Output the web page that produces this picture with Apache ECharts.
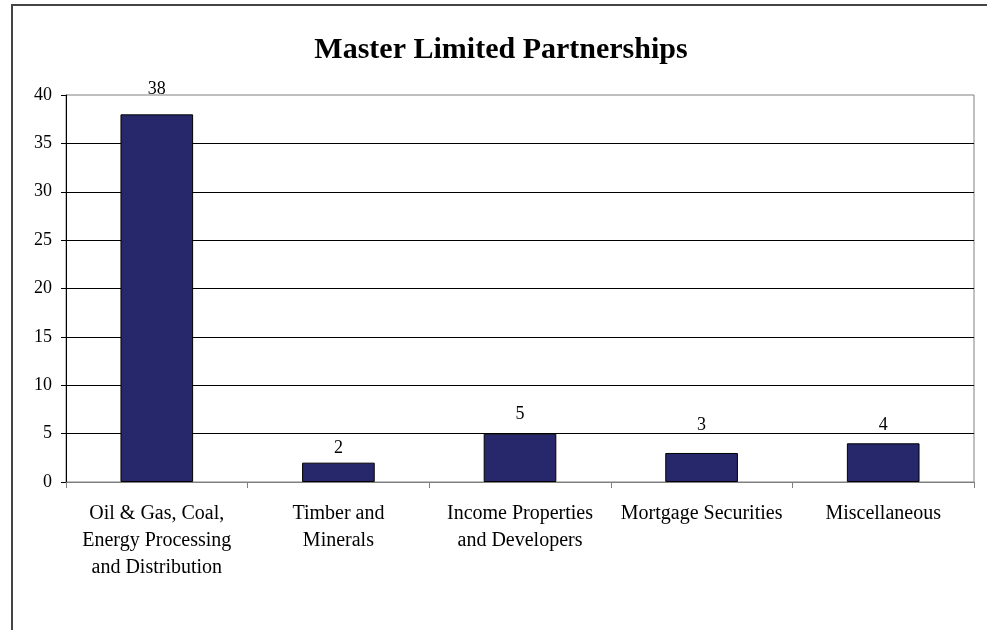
<!DOCTYPE html>
<html>
<head>
<meta charset="utf-8">
<script src="https://cdn.jsdelivr.net/npm/echarts@6/dist/echarts.min.js"></script>
<style>
  html, body { margin: 0; padding: 0; background: #fff; }
  #chart { width: 987px; height: 630px; }
</style>
</head>
<body>
<div id="chart"></div>
<script>
// Number of master limited partnerships by industry group
const categories = [
  'Oil & Gas, Coal,\nEnergy Processing\nand Distribution',
  'Timber and\nMinerals',
  'Income Properties\nand Developers',
  'Mortgage Securities',
  'Miscellaneous'
];
const counts = [38, 2, 5, 3, 4];
const titleText = 'Master Limited Partnerships';
const yMin = 0, yMax = 40, yStep = 5;

// gap (px) between each bar top and its value label
const labelGaps = [16, 5, 10, 19, 9];

const serif = '"Liberation Serif", "Times New Roman", serif';
const chart = echarts.init(document.getElementById('chart'), null, { renderer: 'canvas' });

chart.setOption({
  backgroundColor: '#ffffff',
  animation: false,
  title: {
    text: titleText,
    left: 496,
    top: 30,
    textAlign: 'center',
    textStyle: { fontFamily: serif, fontSize: 30, fontWeight: 'bold', color: '#000' }
  },
  graphic: [{
    type: 'rect',
    shape: { x: 12, y: 5, width: 1000, height: 700 },
    style: { fill: null, stroke: '#444', lineWidth: 2 },
    silent: true
  }],
  grid: {
    left: 66, right: 13, top: 95, bottom: 148,
    show: true, borderColor: '#808080', borderWidth: 1, backgroundColor: 'transparent'
  },
  xAxis: {
    type: 'category',
    data: categories,
    axisLine: { show: true, lineStyle: { color: '#808080', width: 1 } },
    axisTick: { show: true, length: 6, alignWithLabel: false, lineStyle: { color: '#808080' } },
    axisLabel: {
      interval: 0, margin: 18, color: '#000',
      fontFamily: serif, fontSize: 20, lineHeight: 27, align: 'center'
    },
    splitLine: { show: false }
  },
  yAxis: {
    type: 'value',
    min: yMin, max: yMax, interval: yStep,
    axisLine: { show: true, lineStyle: { color: '#000', width: 1 } },
    axisTick: { show: true, length: 5, lineStyle: { color: '#000' } },
    axisLabel: { margin: 14, color: '#000', fontFamily: serif, fontSize: 18 },
    splitLine: { show: true, showMinLine: false, showMaxLine: false, lineStyle: { color: '#000', width: 1 } }
  },
  series: [{
    type: 'bar',
    data: counts.map((v, i) => ({ value: v, label: { distance: labelGaps[i] } })),
    barWidth: '40%',
    itemStyle: { color: '#27276b', borderColor: '#000', borderWidth: 1 },
    label: {
      show: true, position: 'top', distance: 5,
      color: '#000', fontFamily: serif, fontSize: 18
    }
  }]
});
</script>
</body>
</html>
